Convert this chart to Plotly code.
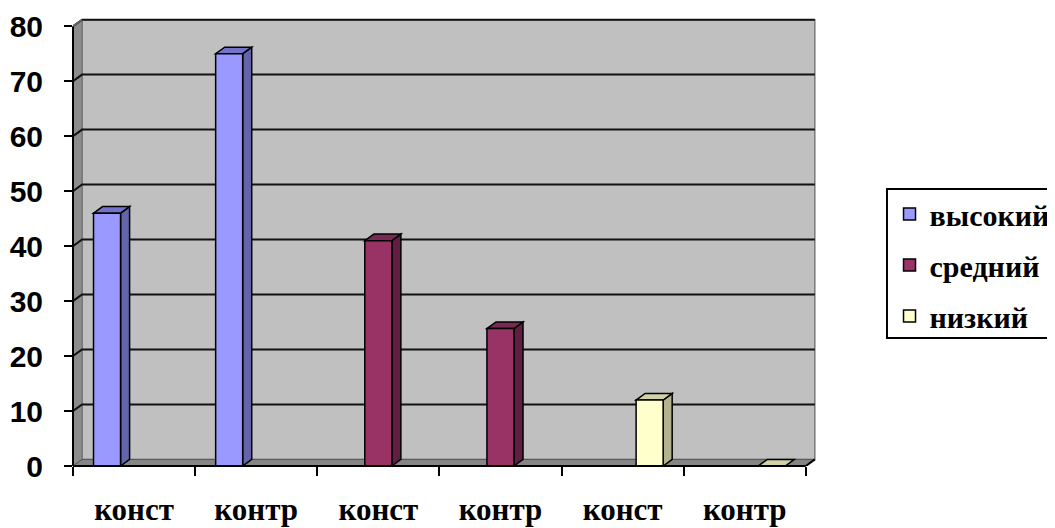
import plotly.graph_objects as go

# ---- data ----
categories = ["конст", "контр", "конст", "контр", "конст", "контр"]
series_names = ["высокий", "средний", "низкий"]
vysokiy = [46, 75, None, None, None, None]
sredniy = [None, None, 41, 25, None, None]
nizkiy = [None, None, None, None, 12, 0]
y_ticks = [0, 10, 20, 30, 40, 50, 60, 70, 80]

series_values = [vysokiy, sredniy, nizkiy]
front_colors = ["#9999FF", "#993366", "#FFFFCC"]
side_colors = ["#6464AA", "#5E1F40", "#B3B38F"]
top_colors = ["#7373CC", "#7A2952", "#D2D2A6"]

SERIF = "Liberation Serif, Times New Roman, serif"
SANS = "Liberation Sans, Arial, sans-serif"

# ---- geometry (in axis units) ----
GAP = 0.336              # gap between clusters (fraction of category)
NS = len(series_names)
W = (1 - GAP) / NS       # bar width
DX = 0.074               # depth offset in x units
DY = 1.2                 # depth offset in y units
X0 = -0.5
X1 = len(categories) - 0.5
YMAX = y_ticks[-1]

fig = go.Figure()

# front faces
for s in range(NS):
    fig.add_trace(go.Bar(
        x=list(range(len(categories))), y=series_values[s], name=series_names[s],
        width=W, offset=-(1 - GAP) / 2 + s * W,
        marker=dict(color=front_colors[s], line=dict(color="black", width=1.5)),
        legendgroup=series_names[s],
    ))

shapes = []
# back wall
shapes.append(dict(type="rect", xref="x", yref="y", x0=X0 + DX, x1=X1 + DX, y0=DY, y1=YMAX + DY,
                   fillcolor="#C0C0C0", line=dict(color="#7A7A7A", width=1.5), layer="below"))
# left wall
shapes.append(dict(type="path", xref="x", yref="y",
                   path=f"M{X0},0 L{X0},{YMAX} L{X0+DX},{YMAX+DY} L{X0+DX},{DY} Z",
                   fillcolor="#8C8C8C", line=dict(color="#6E6E6E", width=1), layer="below"))
# floor
shapes.append(dict(type="path", xref="x", yref="y",
                   path=f"M{X0},0 L{X1},0 L{X1+DX},{DY} L{X0+DX},{DY} Z",
                   fillcolor="#858585", line=dict(color="#555555", width=1), layer="below"))
# gridlines on left wall + back wall
for v in y_ticks[1:]:
    shapes.append(dict(type="path", xref="x", yref="y",
                       path=f"M{X0},{v} L{X0+DX},{v+DY} L{X1+DX},{v+DY}",
                       line=dict(color="#111111", width=2), layer="below"))
# 3D sides and tops of bars
for s in range(NS):
    for i, v in enumerate(series_values[s]):
        if v is None:
            continue
        xl = i - (1 - GAP) / 2 + s * W
        xr = xl + W
        if v > 0:
            shapes.append(dict(type="path", xref="x", yref="y",
                               path=f"M{xr},0 L{xr},{v} L{xr+DX},{v+DY} L{xr+DX},{DY} Z",
                               fillcolor=side_colors[s], line=dict(color="black", width=1.5), layer="below"))
        shapes.append(dict(type="path", xref="x", yref="y",
                           path=f"M{xl},{v} L{xr},{v} L{xr+DX},{v+DY} L{xl+DX},{v+DY} Z",
                           fillcolor=top_colors[s], line=dict(color="black", width=1.5), layer="below"))
# axis lines
shapes.append(dict(type="line", xref="paper", yref="y", x0=0, x1=0, y0=0, y1=YMAX,
                   line=dict(color="black", width=2), layer="above"))
shapes.append(dict(type="line", xref="x", yref="paper", x0=X0, x1=X1, y0=0, y1=0,
                   line=dict(color="black", width=2), layer="above"))
shapes.append(dict(type="line", xref="x", yref="y", x0=X1, x1=X1 + DX, y0=0, y1=DY,
                   line=dict(color="black", width=2), layer="above"))
shapes.append(dict(type="line", xref="x", yref="y", x0=X0, x1=X0 + DX, y0=YMAX, y1=YMAX + DY,
                   line=dict(color="#6E6E6E", width=1.5), layer="above"))
# legend frame
shapes.append(dict(type="rect", xref="paper", yref="paper", x0=1.0926, x1=1.35, y0=0.2857, y1=0.6183,
                   line=dict(color="black", width=2), fillcolor="rgba(0,0,0,0)", layer="above"))

fig.update_layout(
    width=1047, height=520,
    margin=dict(l=65, r=237, t=10, b=62, autoexpand=False),
    paper_bgcolor="white", plot_bgcolor="rgba(0,0,0,0)",
    barmode="overlay",
    shapes=shapes,
    showlegend=True,
    legend=dict(
        x=1.096, y=0.6205, xanchor="left", yanchor="top",
        borderwidth=0, bgcolor="rgba(0,0,0,0)",
        font=dict(family=SERIF, size=30, color="black", weight="bold"),
        tracegroupgap=9,
    ),
    xaxis=dict(
        range=[X0, X1 + DX + 0.026], automargin=False,
        tickvals=list(range(len(categories))), ticktext=categories,
        ticks="", showgrid=False, zeroline=False, showline=False,
        ticklabelstandoff=22,
        tickfont=dict(family=SERIF, size=31, color="black", weight="bold"),
        minor=dict(tickvals=[k - 0.5 for k in range(len(categories) + 1)],
                   ticks="outside", ticklen=9, tickwidth=2, tickcolor="black"),
    ),
    yaxis=dict(
        range=[0, YMAX + 1.5], automargin=False,
        tickvals=y_ticks, ticks="outside", ticklen=8, tickwidth=2, tickcolor="black",
        showgrid=False, zeroline=False, showline=False,
        ticklabelstandoff=15,
        tickfont=dict(family=SANS, size=30, color="black", weight="bold"),
    ),
)

fig.write_html("out.html")
